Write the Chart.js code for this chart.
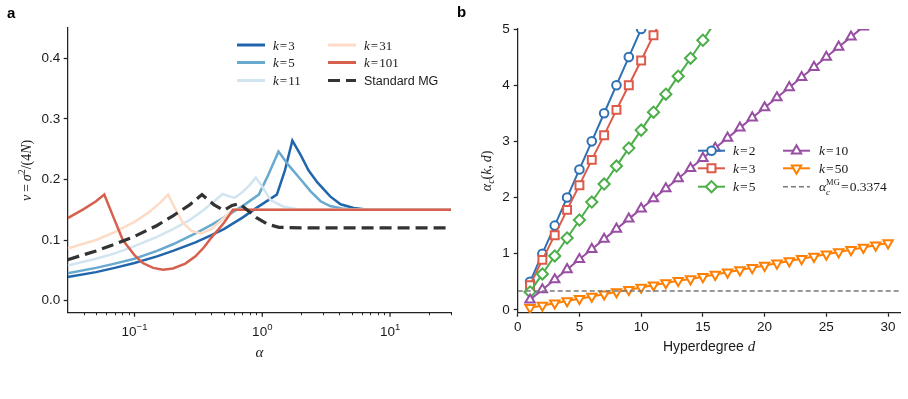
<!DOCTYPE html>
<html>
<head>
<meta charset="utf-8">
<script src="https://cdn.jsdelivr.net/npm/chart.js@4.4.1/dist/chart.umd.min.js"></script>
<style>
  html, body { margin: 0; padding: 0; background: #fff; }
  #wrap { position: relative; width: 908px; height: 399px; overflow: hidden; }
  canvas { position: absolute; top: 0; }
  #chartA { left: 0; }
  #chartB { left: 454px; }
</style>
</head>
<body>
<div id="wrap">
  <canvas id="chartA" width="454" height="399"></canvas>
  <canvas id="chartB" width="454" height="399"></canvas>
</div>
<script>
// ---- panel a : nu = sigma^2/(4N) vs alpha ----
const alphaK3 = [0.03, 0.05, 0.07, 0.1, 0.15, 0.2, 0.3, 0.4, 0.5, 0.7, 0.9, 1.1, 1.3, 1.5, 1.72, 2.0, 2.3, 2.7, 3.4, 4.1, 5.2, 6.5, 8, 30];
const nuK3    = [0.039, 0.047, 0.054, 0.062, 0.073, 0.082, 0.096, 0.108, 0.118, 0.137, 0.153, 0.165, 0.175, 0.214, 0.264, 0.240, 0.215, 0.195, 0.172, 0.159, 0.153, 0.1505, 0.15, 0.15];

const alphaK5 = [0.03, 0.05, 0.07, 0.1, 0.15, 0.2, 0.3, 0.4, 0.5, 0.7, 0.94, 1.1, 1.34, 1.6, 2.0, 2.4, 2.86, 3.4, 4.2, 5.5, 30];
const nuK5    = [0.045, 0.054, 0.061, 0.069, 0.082, 0.093, 0.111, 0.125, 0.137, 0.156, 0.175, 0.205, 0.246, 0.224, 0.200, 0.180, 0.164, 0.156, 0.152, 0.150, 0.150];

const alphaK11 = [0.03, 0.05, 0.07, 0.1, 0.15, 0.2, 0.27, 0.35, 0.42, 0.49, 0.55, 0.61, 0.7, 0.8, 0.89, 1.0, 1.16, 1.47, 2.0, 30];
const nuK11    = [0.058, 0.069, 0.078, 0.090, 0.105, 0.118, 0.133, 0.150, 0.164, 0.176, 0.172, 0.170, 0.179, 0.191, 0.203, 0.188, 0.166, 0.155, 0.150, 0.150];

const alphaK31 = [0.03, 0.05, 0.07, 0.1, 0.13, 0.16, 0.183, 0.21, 0.24, 0.28, 0.33, 0.4, 0.48, 0.59, 30];
const nuK31    = [0.086, 0.100, 0.113, 0.130, 0.146, 0.162, 0.175, 0.150, 0.128, 0.115, 0.111, 0.118, 0.133, 0.150, 0.150];

const alphaK101 = [0.03, 0.04, 0.05, 0.058, 0.068, 0.081, 0.1, 0.116, 0.14, 0.167, 0.2, 0.25, 0.3, 0.35, 0.4, 0.5, 0.59, 30];
const nuK101    = [0.136, 0.151, 0.164, 0.175, 0.139, 0.100, 0.075, 0.062, 0.054, 0.051, 0.053, 0.061, 0.073, 0.088, 0.104, 0.128, 0.150, 0.150];

const alphaStd = [0.03, 0.05, 0.07, 0.1, 0.15, 0.2, 0.27, 0.3374, 0.42, 0.5, 0.58, 0.66, 0.78, 0.9, 1.1, 1.35, 2, 30];
const nuStd    = [0.0675, 0.082, 0.093, 0.106, 0.124, 0.140, 0.158, 0.175, 0.158, 0.149, 0.157, 0.160, 0.148, 0.137, 0.126, 0.121, 0.120, 0.120];

const yTicksA = [0, 0.1, 0.2, 0.3, 0.4];
const xMajorA = [0.1, 1, 10];
const xMinorA = [0.04, 0.05, 0.06, 0.07, 0.08, 0.09, 0.2, 0.3, 0.4, 0.5, 0.6, 0.7, 0.8, 0.9, 2, 3, 4, 5, 6, 7, 8, 9, 20, 30];
const xLabelsA = ["\u22121", "0", "1"];

// ---- panel b : alpha_c(k, d) vs hyperdegree d ----
const hyperdegree = [1, 2, 3, 4, 5, 6, 7, 8, 9, 10, 11, 12, 13, 14, 15, 16, 17, 18, 19, 20, 21, 22, 23, 24, 25, 26, 27, 28, 29, 30];
const alphaK2  = [0.5, 1.0, 1.5, 2.0, 2.5, 3.0, 3.5, 4.0, 4.5, 5.0, 5.5];
const alphaK3b = [0.44, 0.89, 1.33, 1.78, 2.22, 2.67, 3.11, 3.56, 4.0, 4.44, 4.89, 5.33];
const alphaK5b = [0.32, 0.64, 0.96, 1.28, 1.6, 1.92, 2.24, 2.56, 2.88, 3.2, 3.52, 3.84, 4.16, 4.48, 4.8, 5.12];
const alphaK10 = [0.18, 0.36, 0.54, 0.72, 0.9, 1.08, 1.26, 1.44, 1.62, 1.8, 1.98, 2.16, 2.34, 2.52, 2.7, 2.88, 3.06, 3.24, 3.42, 3.6, 3.78, 3.96, 4.14, 4.32, 4.5, 4.68, 4.86, 5.04, 5.22];
const alphaK50 = [0.04, 0.08, 0.12, 0.16, 0.2, 0.24, 0.28, 0.32, 0.36, 0.4, 0.44, 0.48, 0.52, 0.55, 0.59, 0.63, 0.67, 0.71, 0.75, 0.79, 0.83, 0.87, 0.91, 0.95, 0.99, 1.03, 1.07, 1.11, 1.15, 1.19];
const alphaCMG = 0.3374;
const xTicksB = [0, 5, 10, 15, 20, 25, 30];
const yTicksB = [0, 1, 2, 3, 4, 5];

const SANS = '"Liberation Sans", Arial, Helvetica, sans-serif';
const SERIF = '"Liberation Serif", "Times New Roman", serif';
const it = s => `italic ${s}px ${SERIF}`;
const rm = s => `${s}px ${SERIF}`;
const sans = s => `${s}px ${SANS}`;
const INK = '#1a1a1a';

// parts: [text, font, dy, noAdvance]
function drawRich(ctx, parts, x, y, align, angle) {
  ctx.save();
  ctx.translate(x, y);
  if (angle) ctx.rotate(angle);
  let w = 0, keep = 0;
  parts.forEach(p => {
    ctx.font = p[1];
    const pw = ctx.measureText(p[0]).width;
    if (p[3]) { keep = pw; } else { w += Math.max(pw, keep); keep = 0; }
  });
  let cx = align === 'center' ? -w / 2 : align === 'right' ? -w : 0;
  ctx.textAlign = 'left';
  ctx.textBaseline = 'alphabetic';
  ctx.fillStyle = INK;
  keep = 0;
  parts.forEach(p => {
    ctx.font = p[1];
    ctx.fillText(p[0], cx, p[2] || 0);
    const pw = ctx.measureText(p[0]).width;
    if (p[3]) { keep = pw; } else { cx += Math.max(pw, keep); keep = 0; }
  });
  ctx.restore();
}

function drawMarker(ctx, style, x, y, r, color, rot) {
  ctx.save();
  ctx.translate(x, y);
  if (rot) ctx.rotate(rot * Math.PI / 180);
  ctx.beginPath();
  if (style === 'circle') {
    ctx.arc(0, 0, r, 0, 2 * Math.PI);
  } else if (style === 'rect') {
    const s = r * Math.SQRT1_2;
    ctx.rect(-s, -s, 2 * s, 2 * s);
  } else if (style === 'rectRot') {
    ctx.moveTo(-r, 0); ctx.lineTo(0, -r); ctx.lineTo(r, 0); ctx.lineTo(0, r); ctx.closePath();
  } else if (style === 'triangle') {
    for (let i = 0; i < 3; i++) {
      const a = i * 2 * Math.PI / 3;
      const px = Math.sin(a) * r, py = -Math.cos(a) * r;
      if (i === 0) ctx.moveTo(px, py); else ctx.lineTo(px, py);
    }
    ctx.closePath();
  }
  ctx.fillStyle = '#fff';
  ctx.fill();
  ctx.lineWidth = 2;
  ctx.strokeStyle = color;
  ctx.stroke();
  ctx.restore();
}

const pairs = (xs, ys) => ys.map((v, i) => ({ x: xs[i], y: v }));
const kText = (n, s) => [['k', it(s)], ['\u200a=\u200a' + n, rm(s)]];

// ================= panel a =================
const seriesA = [
  { label: 'k=3',   a: alphaK3,   v: nuK3,    color: '#2166ac', dash: [] },
  { label: 'k=5',   a: alphaK5,   v: nuK5,    color: '#67a9cf', dash: [] },
  { label: 'k=11',  a: alphaK11,  v: nuK11,   color: '#d1e5f0', dash: [] },
  { label: 'k=31',  a: alphaK31,  v: nuK31,   color: '#fddbc7', dash: [] },
  { label: 'k=101', a: alphaK101, v: nuK101,  color: '#d6604d', dash: [] },
  { label: 'Standard MG', a: alphaStd, v: nuStd, color: '#333333', dash: [12, 6], width: 3.2 }
];

const panelAExtras = {
  id: 'panelAExtras',
  afterDraw(chart) {
    const ctx = chart.ctx;
    const xs = chart.scales.x;
    const area = chart.chartArea;
    // log ticks
    ctx.save();
    ctx.strokeStyle = '#222';
    ctx.lineWidth = 1;
    xMinorA.forEach(v => {
      const px = Math.round(xs.getPixelForValue(v)) + 0.5;
      ctx.beginPath(); ctx.moveTo(px, area.bottom); ctx.lineTo(px, area.bottom + 2.5); ctx.stroke();
    });
    ctx.lineWidth = 1.25;
    xMajorA.forEach((v, i) => {
      const px = xs.getPixelForValue(v);
      ctx.beginPath(); ctx.moveTo(px, area.bottom); ctx.lineTo(px, area.bottom + 4); ctx.stroke();
      drawRich(ctx, [['10', sans(13.5)], [xLabelsA[i], sans(9.5), -6]], px, 336, 'center');
    });
    ctx.restore();

    // axis titles
    drawRich(ctx, [['\u03b1', it(15)]], (area.left + area.right) / 2, 357, 'center');
    drawRich(ctx, [['\u03bd', it(14)], ['\u2009=\u2009', rm(14)], ['\u03c3', it(14)], ['2', rm(10), -6],
                   ['/(4', rm(14)], ['N', it(14)], [')', rm(14)]], 31, (area.top + area.bottom) / 2, 'center', -Math.PI / 2);

    // panel letter
    ctx.save();
    ctx.font = `bold 15px ${SANS}`;
    ctx.fillStyle = '#000';
    ctx.fillText('a', 7, 18);
    ctx.restore();

    // legend
    const cols = [{ lx: 237, tx: 273 }, { lx: 328, tx: 364 }];
    const rows = [45, 62.5, 80.5];
    seriesA.forEach((s, i) => {
      const c = cols[Math.floor(i / 3)], ry = rows[i % 3];
      ctx.save();
      ctx.strokeStyle = s.color;
      ctx.lineWidth = s.width || 3;
      ctx.setLineDash(s.dash);
      ctx.beginPath(); ctx.moveTo(c.lx, ry); ctx.lineTo(c.lx + 28, ry); ctx.stroke();
      ctx.restore();
      if (i === 5) drawRich(ctx, [['Standard MG', sans(12.5)]], c.tx, ry + 4.5, 'left');
      else drawRich(ctx, kText(s.label.slice(2), 13), c.tx, ry + 4.5, 'left');
    });
  }
};

new Chart(document.getElementById('chartA'), {
  type: 'line',
  data: {
    datasets: seriesA.map((s, i) => ({
      label: s.label,
      data: pairs(s.a, s.v),
      borderColor: s.color,
      borderWidth: s.width || 2.5,
      borderDash: s.dash,
      pointRadius: 0,
      tension: 0,
      fill: false,
      order: -i
    }))
  },
  options: {
    responsive: false,
    animation: false,
    events: [],
    layout: { padding: { top: 28, right: 3, left: 0, bottom: 0 } },
    plugins: { legend: { display: false }, tooltip: { enabled: false } },
    scales: {
      x: {
        type: 'logarithmic',
        min: 0.03,
        max: 30,
        afterBuildTicks: s => { s.ticks = xMajorA.map(v => ({ value: v })); },
        afterFit: s => { s.height = 86.3; },
        ticks: { display: false },
        grid: { display: false },
        border: { display: true, color: '#222', width: 1.25 }
      },
      y: {
        type: 'linear',
        min: -0.02,
        max: 0.45,
        afterBuildTicks: s => { s.ticks = yTicksA.map(v => ({ value: v })); },
        afterFit: s => { s.width = 67.7; },
        ticks: { callback: v => v.toFixed(1), font: { family: SANS, size: 13.5 }, color: INK, padding: 3.5 },
        grid: { display: true, drawOnChartArea: false, drawTicks: true, tickLength: 4, color: '#222', tickWidth: 1.25 },
        border: { display: true, color: '#222', width: 1.25 }
      }
    }
  },
  plugins: [panelAExtras]
});

// ================= panel b =================
const seriesB = [
  { n: '2',  v: alphaK2,  color: '#2f71b3', style: 'circle',   r: 4.3, rot: 0 },
  { n: '3',  v: alphaK3b, color: '#dd5a4a', style: 'rect',     r: 5.6, rot: 0 },
  { n: '5',  v: alphaK5b, color: '#4daf4a', style: 'rectRot',  r: 5.6, rot: 0 },
  { n: '10', v: alphaK10, color: '#984ea3', style: 'triangle', r: 5.4, rot: 0 },
  { n: '50', v: alphaK50, color: '#ff7f00', style: 'triangle', r: 5.4, rot: 180 }
];

const panelBExtras = {
  id: 'panelBExtras',
  afterDraw(chart) {
    const ctx = chart.ctx;
    const area = chart.chartArea;
    drawRich(ctx, [['Hyperdegree ', sans(14)], ['d', it(15)]], (area.left + area.right) / 2, 351, 'center');
    drawRich(ctx, [['\u03b1', it(14)], ['c', it(10), 3], ['(', rm(14)], ['k', it(14)], [',\u2009', rm(14)], ['d', it(14)], [')', rm(14)]],
             37, (area.top + area.bottom) / 2, 'center', -Math.PI / 2);

    ctx.save();
    ctx.font = `bold 15px ${SANS}`;
    ctx.fillStyle = '#000';
    ctx.fillText('b', 3, 17);
    ctx.restore();

    // legend
    const cols = [{ lx: 244, tx: 279 }, { lx: 329, tx: 365 }];
    const rows = [150.7, 168.3, 186.7];
    const entries = seriesB.concat([{ mg: true }]);
    entries.forEach((s, i) => {
      const c = cols[Math.floor(i / 3)], ry = rows[i % 3];
      ctx.save();
      if (s.mg) {
        ctx.strokeStyle = '#7a7a7a';
        ctx.lineWidth = 1.5;
        ctx.setLineDash([5, 3]);
        ctx.beginPath(); ctx.moveTo(c.lx, ry); ctx.lineTo(c.lx + 27, ry); ctx.stroke();
        ctx.restore();
        drawRich(ctx, [['\u03b1', it(13.5)], ['c', it(9), 3.5, true], ['MG', rm(8.5), -6], ['\u200a=\u200a0.3374', rm(13.5)]],
                 c.tx, ry + 4.5, 'left');
        return;
      }
      ctx.strokeStyle = s.color;
      ctx.lineWidth = 2;
      ctx.beginPath(); ctx.moveTo(c.lx, ry); ctx.lineTo(c.lx + 27, ry); ctx.stroke();
      ctx.restore();
      drawMarker(ctx, s.style, c.lx + 13.5, ry, s.r, s.color, s.rot);
      drawRich(ctx, kText(s.n, 13.5), c.tx, ry + 4.5, 'left');
    });
  }
};

const datasetsB = seriesB.map((s, i) => ({
  label: 'k=' + s.n,
  data: s.v.map((v, j) => ({ x: hyperdegree[j], y: v })),
  borderColor: s.color,
  borderWidth: 2,
  pointStyle: s.style,
  pointRadius: s.r,
  pointRotation: s.rot,
  pointBorderWidth: 2,
  pointBackgroundColor: '#fff',
  pointBorderColor: s.color,
  tension: 0,
  fill: false,
  order: -i
}));
datasetsB.push({
  label: 'alpha_c MG',
  data: [{ x: 0, y: alphaCMG }, { x: 31, y: alphaCMG }],
  borderColor: '#7a7a7a',
  borderWidth: 1.5,
  borderDash: [5, 3],
  pointRadius: 0,
  order: -10
});

new Chart(document.getElementById('chartB'), {
  type: 'line',
  data: { datasets: datasetsB },
  options: {
    responsive: false,
    animation: false,
    events: [],
    layout: { padding: { top: 29, right: 7.3, left: 0, bottom: 0 } },
    plugins: { legend: { display: false }, tooltip: { enabled: false } },
    scales: {
      x: {
        type: 'linear',
        min: 0,
        max: 31,
        afterBuildTicks: s => { s.ticks = xTicksB.map(v => ({ value: v })); },
        afterFit: s => { s.height = 86.3; },
        ticks: { font: { family: SANS, size: 13.5 }, color: INK, padding: 2, maxRotation: 0 },
        grid: { display: true, drawOnChartArea: false, drawTicks: true, tickLength: 4, color: '#222', tickWidth: 1.25 },
        border: { display: true, color: '#222', width: 1.25 }
      },
      y: {
        type: 'linear',
        min: -0.05,
        max: 5,
        afterBuildTicks: s => { s.ticks = yTicksB.map(v => ({ value: v })); },
        afterFit: s => { s.width = 63.7; },
        ticks: { font: { family: SANS, size: 13.5 }, color: INK, padding: 4 },
        grid: { display: true, drawOnChartArea: false, drawTicks: true, tickLength: 4, color: '#222', tickWidth: 1.25 },
        border: { display: true, color: '#222', width: 1.25 }
      }
    }
  },
  plugins: [panelBExtras]
});
</script>
</body>
</html>
